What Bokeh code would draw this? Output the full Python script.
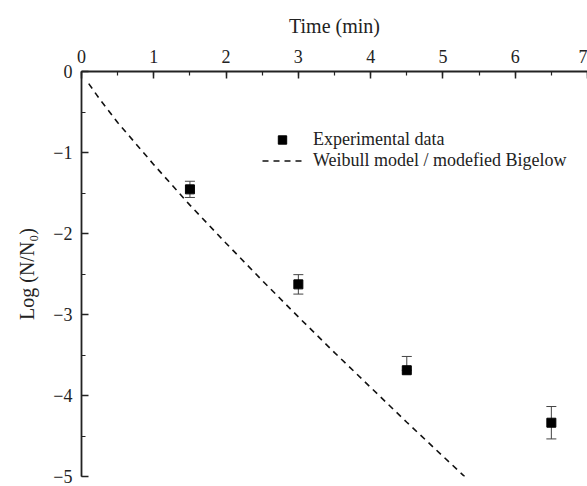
from bokeh.plotting import figure
from bokeh.models import (ColumnDataSource, Whisker, Legend, LegendItem,
                          FixedTicker, Range1d)
from bokeh.embed import file_html
from bokeh.resources import INLINE

# Experimental data
time_exp = [1.5, 3.0, 4.5, 6.5]
log_exp = [-1.455, -2.628, -3.688, -4.336]
err_low = [0.10, 0.12, 0.0, 0.20]
err_high = [0.10, 0.12, 0.17, 0.20]

# Weibull model / modified Bigelow curve
time_model = [0.1, 0.25, 0.5, 1.0, 1.5, 2.0, 2.5, 3.0, 3.5, 4.0, 4.5, 5.0, 5.3]
log_model = [-0.15, -0.34, -0.63, -1.15, -1.65, -2.12, -2.58, -3.03, -3.47,
             -3.90, -4.33, -4.75, -5.0]

x_ticks = [0, 1, 2, 3, 4, 5, 6, 7]
y_ticks = [0, -1, -2, -3, -4, -5]
y_tick_labels = ["0", "\u22121", "\u22122", "\u22123", "\u22124", "\u22125"]

FONT = "Liberation Serif"

p = figure(width=587, height=486, output_backend="svg", toolbar_location=None,
           x_axis_location="above",
           x_range=Range1d(0, 7.0), y_range=Range1d(-5, 0),
           min_border_left=81, min_border_top=71, min_border_bottom=10,
           min_border_right=0)
p.grid.visible = False
p.outline_line_color = None
p.background_fill_color = "white"

for ax in (p.xaxis[0], p.yaxis[0]):
    ax.axis_line_width = 1.8
    ax.axis_line_color = "#222222"
    ax.major_tick_line_color = "#222222"
    ax.minor_tick_line_color = "#222222"
    ax.major_tick_line_width = 1.5
    ax.minor_tick_line_width = 1.2
    ax.major_tick_in = 7
    ax.major_tick_out = 0
    ax.minor_tick_in = 4
    ax.minor_tick_out = 0
    ax.major_label_text_font = FONT
    ax.major_label_text_font_size = "18px"
    ax.major_label_text_color = "#222222"
    ax.axis_label_text_font = FONT
    ax.axis_label_text_font_size = "20px"
    ax.axis_label_text_font_style = "normal"
    ax.axis_label_text_color = "#222222"

p.xaxis.ticker = FixedTicker(ticks=x_ticks, minor_ticks=[i * 0.5 for i in range(15)])
p.yaxis.ticker = FixedTicker(ticks=y_ticks, minor_ticks=[-i * 0.5 for i in range(11)])
p.yaxis.major_label_overrides = {t: l for t, l in zip(y_ticks, y_tick_labels)}
p.xaxis.axis_label = "Time (min)"
p.yaxis.axis_label = "Log (N/N\u2080)"
p.xaxis.major_label_standoff = 9
p.xaxis.axis_label_standoff = 10
p.yaxis.major_label_standoff = 9
p.yaxis.axis_label_standoff = 12

line_r = p.line(time_model, log_model, line_color="#111111", line_width=1.6,
                line_dash="6 5")

src = ColumnDataSource(dict(
    x=time_exp, y=log_exp,
    lower=[v - e for v, e in zip(log_exp, err_low)],
    upper=[v + e for v, e in zip(log_exp, err_high)],
))
wh = Whisker(source=src, base="x", lower="lower", upper="upper",
             line_color="#444444", line_width=1)
wh.upper_head.size = 10
wh.lower_head.size = 10
wh.upper_head.line_color = "#444444"
wh.lower_head.line_color = "#444444"
p.add_layout(wh)

pts = p.scatter("x", "y", source=src, marker="square", size=9,
                fill_color="black", line_color="black")

legend = Legend(items=[
    LegendItem(label="Experimental data", renderers=[pts]),
    LegendItem(label="Weibull model / modefied Bigelow", renderers=[line_r]),
], location=(181, 305))
legend.label_text_font = FONT
legend.label_text_font_size = "18px"
legend.label_text_color = "#222222"
legend.glyph_width = 40
legend.glyph_height = 21
legend.label_height = 21
legend.label_standoff = 11
legend.spacing = 0
legend.padding = 0
legend.margin = 0
legend.border_line_color = None
legend.background_fill_alpha = 0
p.add_layout(legend, "center")

open("out.html", "w").write(file_html(p, INLINE))
